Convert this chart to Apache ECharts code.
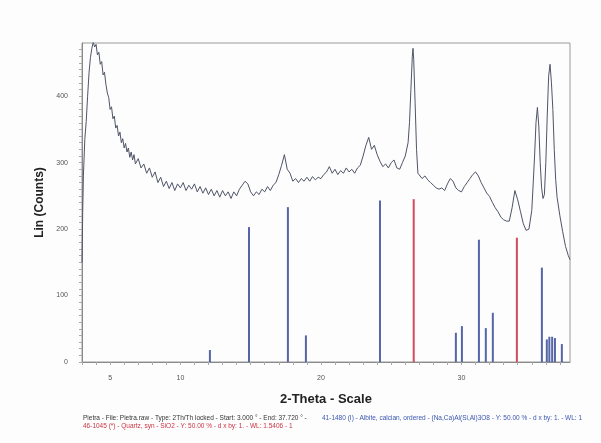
<!DOCTYPE html>
<html>
<head>
<meta charset="utf-8">
<script src="https://cdn.jsdelivr.net/npm/echarts@6/dist/echarts.min.js"></script>
<style>
  html, body { margin: 0; padding: 0; background: #fdfdfd; }
  #main { width: 601px; height: 443px; }
</style>
</head>
<body>
<div id="main"></div>
<script>
// measured pattern, 2-theta (deg) and Lin counts
var thetaVals = [3.0,3.05,3.1,3.2,3.3,3.4,3.5,3.6,3.7,3.8,3.9,4.0,4.1,4.2,4.3,4.4,4.5,4.6,4.7,4.8,4.9,
  5.0,5.1,5.2,5.3,5.4,5.5,5.6,5.7,5.8,5.9,6.0,6.1,6.2,6.3,6.4,6.5,6.6,6.7,6.8,7.0,7.2,7.4,7.6,7.8,
  8.0,8.2,8.4,8.6,8.8,9.0,9.2,9.4,9.6,9.8,10.0,10.2,10.4,10.6,10.8,11.0,11.2,11.4,11.6,11.8,
  12.0,12.2,12.4,12.6,12.8,13.0,13.2,13.4,13.6,13.8,14.0,14.2,14.4,14.6,14.8,15.0,15.2,15.4,15.6,15.8,
  16.0,16.2,16.4,16.6,16.8,17.0,17.2,17.4,17.6,17.8,18.0,18.2,18.4,18.6,18.8,19.0,19.2,19.4,19.6,19.8,
  20.0,20.2,20.4,20.6,20.8,21.0,21.2,21.4,21.6,21.8,22.0,22.2,22.4,22.6,22.8,23.0,23.2,23.4,23.6,23.8,
  24.0,24.2,24.4,24.6,24.8,25.0,25.2,25.4,25.6,25.8,26.0,26.2,26.3,26.4,26.5,26.55,26.6,26.7,26.8,26.9,
  27.0,27.2,27.4,27.6,27.8,28.0,28.2,28.4,28.6,28.8,29.0,29.2,29.4,29.6,29.8,30.0,30.2,30.4,30.6,30.8,
  31.0,31.2,31.4,31.6,31.8,32.0,32.2,32.4,32.6,32.8,33.0,33.2,33.4,33.6,33.8,33.9,34.0,34.2,34.4,34.6,34.7,34.8,
  35.0,35.1,35.2,35.3,35.4,35.5,35.6,35.7,35.8,35.9,36.0,36.1,36.2,36.3,36.4,36.5,36.6,36.7,36.8,
  37.0,37.2,37.4,37.6,37.72];
var countVals = [150,225,280,335,362,400,435,458,472,481,474,478,462,466,448,452,432,436,418,405,398,
  380,384,366,370,352,356,340,346,330,336,322,329,316,322,308,316,304,312,298,306,292,298,284,292,
  278,286,270,278,264,272,261,270,258,268,262,270,258,266,260,268,256,264,254,262,
  252,260,250,258,248,258,250,256,246,256,250,260,266,272,268,256,250,256,252,260,
  256,264,258,266,270,282,296,312,290,284,272,276,270,276,272,278,272,279,274,278,
  276,282,286,294,284,290,282,288,284,292,286,290,284,292,296,310,326,338,320,326,
  312,302,294,298,292,300,304,292,290,300,310,330,360,410,460,472,455,390,320,284,
  282,276,280,274,270,266,262,260,262,258,268,276,272,262,258,256,264,270,276,282,
  286,280,270,262,254,249,240,232,226,218,214,212,212,232,258,260,244,226,208,198,196,200,
  228,268,310,360,383,355,300,262,246,252,300,370,430,448,420,380,320,275,248,
  220,196,174,160,154];

// reference sticks
var blueTheta  = [12.1,14.88,17.65,18.93,24.2,29.6,30.03,31.24,31.73,32.23,35.72,36.07,36.25,36.45,36.65,37.14];
var blueHeight = [18,203,233,40,243,44,54,184,51,74,142,34,38,38,36,27];
var redTheta   = [26.6,33.94];
var redHeight  = [245,187];

var xTickLabels = [5,10,20,30];
var yTickLabels = [0,100,200,300,400];

var chart = echarts.init(document.getElementById('main'));

var curve = thetaVals.map(function (t, i) { return [t, countVals[i]]; });
var blueData = blueTheta.map(function (t, i) { return [t, blueHeight[i]]; });
var redData = redTheta.map(function (t, i) { return [t, redHeight[i]]; });

var option = {
  backgroundColor: '#fdfdfd',
  animation: false,
  grid: {
    left: 82, right: 31, top: 43, bottom: 81,
    show: true, borderColor: '#9a9a9a', borderWidth: 1
  },
  xAxis: {
    type: 'value',
    min: 3, max: 37.72, interval: 1,
    name: '2-Theta - Scale',
    nameLocation: 'middle',
    nameGap: 31,
    nameTextStyle: { color: '#222', fontSize: 13, fontWeight: 'bold', fontFamily: 'Liberation Sans' },
    axisLine: { lineStyle: { color: '#8a8a8a' } },
    axisTick: { length: 3, lineStyle: { color: '#aaa' } },
    axisLabel: {
      margin: 13, fontSize: 7, color: '#555', showMaxLabel: false,
      formatter: function (v) { return xTickLabels.indexOf(v) >= 0 ? String(v) : ''; }
    },
    splitLine: { show: false }
  },
  yAxis: {
    type: 'value',
    min: 0, max: 480, interval: 10,
    name: 'Lin (Counts)',
    nameLocation: 'middle',
    nameGap: 34,
    nameTextStyle: { color: '#222', fontSize: 12, fontWeight: 'bold', fontFamily: 'Liberation Sans' },
    axisLine: { show: true, lineStyle: { color: '#8a8a8a' } },
    axisTick: { length: 3, lineStyle: { color: '#aaa' } },
    axisLabel: {
      margin: 14, fontSize: 7, color: '#555', showMaxLabel: false,
      formatter: function (v) { return yTickLabels.indexOf(v) >= 0 ? String(v) : ''; }
    },
    splitLine: { show: false }
  },
  series: [
    {
      name: 'Pietra', type: 'line', data: curve,
      showSymbol: false, lineStyle: { color: '#4f5468', width: 1 }, z: 3
    },
    {
      name: 'Albite', type: 'bar', data: blueData,
      barWidth: 2, barGap: '-100%', itemStyle: { color: '#5566a8' }
    },
    {
      name: 'Quartz', type: 'bar', data: redData,
      barWidth: 2, barGap: '-100%', itemStyle: { color: '#d24a5c' }
    }
  ],
  graphic: [
    { type: 'text', left: 83, top: 415,
      style: { text: 'Pietra - File: Pietra.raw - Type: 2Th/Th locked - Start: 3.000 ° - End: 37.720 ° -', fontSize: 6.5, fill: '#333' } },
    { type: 'text', left: 322, top: 415,
      style: { text: '41-1480 (I) - Albite, calcian, ordered - (Na,Ca)Al(Si,Al)3O8 - Y: 50.00 % - d x by: 1. - WL: 1', fontSize: 6.5, fill: '#3a56b0' } },
    { type: 'text', left: 83, top: 423,
      style: { text: '46-1045 (*) - Quartz, syn - SiO2 - Y: 50.00 % - d x by: 1. - WL: 1.5406 - 1', fontSize: 6.5, fill: '#cc3344' } }
  ]
};

chart.setOption(option);
</script>
</body>
</html>
